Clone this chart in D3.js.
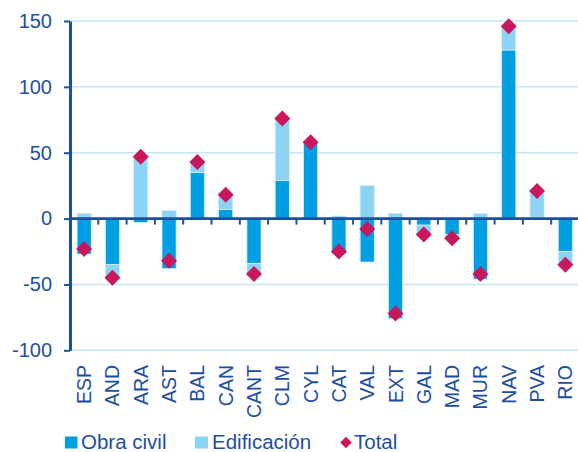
<!DOCTYPE html>
<html>
<head>
<meta charset="utf-8">
<script src="https://cdn.jsdelivr.net/npm/d3@7"></script>
<style>
  body { margin: 0; background: #fff; }
  text { font-family: "Liberation Sans", Arial, sans-serif; }
</style>
</head>
<body>
<div id="chart"></div>
<script>
// values
const categories = ["ESP","AND","ARA","AST","BAL","CAN","CANT","CLM","CYL","CAT","VAL","EXT","GAL","MAD","MUR","NAV","PVA","RIO"];
const obraCivil   = [-27,-35,-3,-38,35,7,-34,29,57,-27,-33,-76,-5,-12,-46,128,1,-25];
const edificacion = [4,-10,46,6,8,10,-8,47,1,2,25,4,-7,-3,4,18,19,-10];
const total       = [-23,-45,47,-32,43,18,-42,76,58,-25,-8,-72,-12,-15,-42,146,21,-35];
const yTicks = [-100,-50,0,50,100,150];

const width = 578;
const height = 452;
const margin = {left:70, right:-1.5, top:21, bottom:101.7};

const textColor = "#1d4f9f";
const darkBlue = "#009fe3";
const lightBlue = "#8dd3f3";
const magenta = "#c8175d";

const svg = d3.select("#chart")
  .append("svg")
  .attr("width", width)
  .attr("height", height);

// table for the stack
const rows = categories.map((c, i) => ({cat: c, civil: obraCivil[i], edif: edificacion[i]}));
const series = d3.stack()
  .keys(["civil","edif"])
  .offset(d3.stackOffsetDiverging)(rows);

const x = d3.scaleBand()
  .domain(categories)
  .range([margin.left, width - margin.right])
  .paddingInner(0.5)
  .paddingOuter(0.25);

const y = d3.scaleLinear()
  .domain([-100, 150])
  .range([height - margin.bottom, margin.top]);

// gridlines
svg.append("g")
  .selectAll("line")
  .data(yTicks.filter(d => d !== 0))
  .join("line")
    .attr("x1", margin.left)
    .attr("x2", width)
    .attr("y1", d => y(d))
    .attr("y2", d => y(d))
    .attr("stroke", "#c4e6f6")
    .attr("stroke-width", 1.5);

// bars
const colors = {civil: darkBlue, edif: lightBlue};
svg.append("g")
  .selectAll("g")
  .data(series)
  .join("g")
    .attr("fill", s => colors[s.key])
  .selectAll("rect")
  .data(s => s)
  .join("rect")
    .attr("x", d => x(d.data.cat))
    .attr("width", x.bandwidth())
    .attr("y", d => y(Math.max(d[0], d[1])))
    .attr("height", d => Math.abs(y(d[0]) - y(d[1])))
    .attr("stroke", "#d4eefa")
    .attr("stroke-width", 0.8);

// zero line with ticks at category boundaries
const step = x.step();
const boundaries = d3.range(1, categories.length).map(i => x(categories[i]) - step * x.paddingInner() / 2);
svg.append("g")
  .selectAll("line")
  .data(boundaries)
  .join("line")
    .attr("x1", d => d)
    .attr("x2", d => d)
    .attr("y1", y(0))
    .attr("y2", y(0) + 6)
    .attr("stroke", textColor)
    .attr("stroke-width", 2);

svg.append("line")
  .attr("x1", margin.left)
  .attr("x2", width)
  .attr("y1", y(0))
  .attr("y2", y(0))
  .attr("stroke", textColor)
  .attr("stroke-width", 2.6);

// y axis
const yAxis = svg.append("g")
  .attr("transform", `translate(${margin.left},0)`)
  .call(d3.axisLeft(y).tickValues(yTicks).tickFormat(d => String(d))
    .tickSize(6).tickPadding(12).tickSizeOuter(0));
yAxis.select(".domain").attr("stroke", textColor).attr("stroke-width", 3);
yAxis.selectAll(".tick line").attr("stroke", textColor).attr("stroke-width", 2);
yAxis.selectAll(".tick text")
  .attr("fill", textColor)
  .attr("font-size", "20px")
  .attr("font-family", "Liberation Sans, Arial, sans-serif");

// category labels (rotated)
svg.append("g")
  .selectAll("text")
  .data(categories)
  .join("text")
    .attr("transform", d => `translate(${x(d) + x.bandwidth() / 2},365) rotate(-90)`)
    .attr("text-anchor", "end")
    .attr("dy", "0.36em")
    .attr("fill", textColor)
    .attr("font-size", "19.5px")
    .text(d => d);

// total diamonds
const diamond = d3.symbol().type(d3.symbolSquare).size(128);
svg.append("g")
  .selectAll("path")
  .data(total)
  .join("path")
    .attr("d", diamond)
    .attr("transform", (d, i) => `translate(${x(categories[i]) + x.bandwidth() / 2},${y(d)}) rotate(45)`)
    .attr("fill", magenta);

// legend
const legend = svg.append("g").attr("transform", "translate(0,449)");
legend.append("rect").attr("x", 65).attr("y", -12.5).attr("width", 12.5).attr("height", 12).attr("fill", darkBlue);
legend.append("text").attr("x", 81).attr("fill", textColor).attr("font-size", "20.5px").text("Obra civil");
legend.append("rect").attr("x", 195).attr("y", -12.5).attr("width", 13).attr("height", 12).attr("fill", lightBlue);
legend.append("text").attr("x", 212).attr("fill", textColor).attr("font-size", "20.5px").text("Edificación");
legend.append("path")
  .attr("d", d3.symbol().type(d3.symbolSquare).size(68))
  .attr("transform", "translate(346,-6.5) rotate(45)")
  .attr("fill", magenta);
legend.append("text").attr("x", 354).attr("fill", textColor).attr("font-size", "20.5px").text("Total");
</script>
</body>
</html>
